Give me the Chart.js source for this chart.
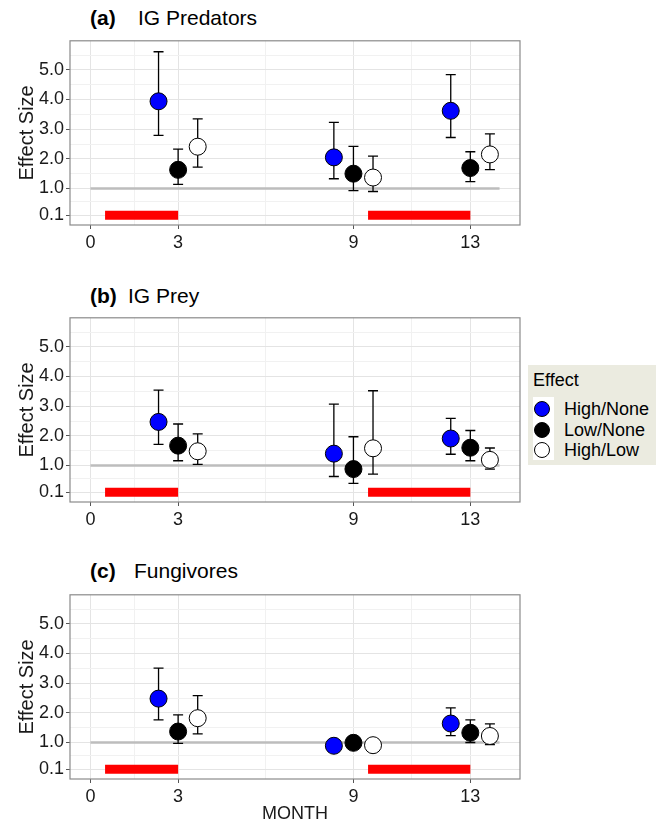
<!DOCTYPE html>
<html>
<head>
<meta charset="utf-8">
<script src="https://cdn.jsdelivr.net/npm/chart.js@4.4.1/dist/chart.umd.min.js"></script>
<style>
  body { margin: 0; background: #fff; font-family: "Liberation Sans", Arial, sans-serif; }
  #page { position: relative; width: 656px; height: 826px; overflow: hidden; }
  canvas { position: absolute; left: 0; }
  .ttl { position: absolute; font-size: 21px; line-height: 24px; color: #000; white-space: nowrap; }
  .ttl b { font-weight: bold; }
  #legend { position: absolute; left: 528px; top: 365px; width: 128px; height: 100px; background: #ebebe0; }
  #legend .head { position: absolute; left: 5px; top: 4px; font-size: 18px; line-height: 22px; }
  #legend .keys { position: absolute; left: 5px; top: 32px; width: 21px; height: 63px; background: #fff; }
  #legend .dot { position: absolute; left: 6px; width: 16px; height: 16px; border-radius: 50%; border: 1px solid #000; box-sizing: border-box; }
  #legend .lab { position: absolute; left: 36px; font-size: 18px; line-height: 20px; }
</style>
</head>
<body>
<div id="page">
  <div class="ttl" style="left:90px;top:6px"><b>(a)</b></div>
  <div class="ttl" style="left:138px;top:6px">IG Predators</div>
  <div class="ttl" style="left:90px;top:284px"><b>(b)</b></div>
  <div class="ttl" style="left:128px;top:284px">IG Prey</div>
  <div class="ttl" style="left:90px;top:559px"><b>(c)</b></div>
  <div class="ttl" style="left:134px;top:559px">Fungivores</div>
  <canvas id="predChart"></canvas>
  <canvas id="preyChart"></canvas>
  <canvas id="fungChart"></canvas>
  <div id="legend"></div>
</div>
<script>
// months sampled, and the three effect contrasts
var months = [3, 9, 13];
var effectNames = ["High/None", "Low/None", "High/Low"];
var effectFill = ["#0000ff", "#000000", "#ffffff"];

// axis ticks
var xTickValues = [0, 3, 9, 13];
var xMinorValues = [1.5, 6, 11];
var yTickValues = [0.1, 1, 2, 3, 4, 5];
var yTickLabels = ["0.1", "1.0", "2.0", "3.0", "4.0", "5.0"];
var yMinorValues = [0.55, 1.5, 2.5, 3.5, 4.5, 5.5];

// red season bars (at y = 0.1) and grey reference line (at y = 1)
var seasons = [[0.5, 3], [9.5, 13]];
var seasonLevel = 0.1;
var refSpan = [0, 14];
var refLevel = 1;

// (a) IG Predators: rows High/None, Low/None, High/Low; columns = months
var predMean = [[3.94, 2.05, 3.62], [1.63, 1.50, 1.69], [2.41, 1.37, 2.15]];
var predLow  = [[2.79, 1.33, 2.72], [1.14, 0.93, 1.23], [1.72, 0.90, 1.64]];
var predHigh = [[5.61, 3.23, 4.84], [2.33, 2.42, 2.24], [3.35, 2.09, 2.84]];

// (b) IG Prey
var preyMean = [[2.47, 1.40, 1.91], [1.67, 0.88, 1.60], [1.48, 1.58, 1.19]];
var preyLow  = [[1.71, 0.63, 1.38], [1.16, 0.40, 1.16], [1.04, 0.71, 0.88]];
var preyHigh = [[3.54, 3.07, 2.59], [2.40, 1.97, 2.18], [2.07, 3.52, 1.59]];

// (c) Fungivores
var fungMean = [[2.48, 0.89, 1.64], [1.37, 0.99, 1.33], [1.82, 0.91, 1.22]];
var fungLow  = [[1.76, 0.85, 1.23], [0.97, 0.95, 1.00], [1.29, 0.87, 0.93]];
var fungHigh = [[3.51, 0.93, 2.17], [1.93, 1.03, 1.76], [2.58, 0.95, 1.63]];

Chart.defaults.font.family = "'Liberation Sans', Arial, sans-serif";
Chart.defaults.color = "#1a1a1a";

var dodge = 0.67;
var boxHeight = 187;

var errorBars = {
  id: "errorBars",
  beforeDatasetDraw: function (chart, args) {
    var ds = chart.data.datasets[args.index];
    if (!ds.errorBars) return;
    var xs = chart.scales.x, ys = chart.scales.y, ctx = chart.ctx;
    ctx.save();
    ctx.strokeStyle = "#000";
    ctx.lineWidth = 1.3;
    ds.data.forEach(function (p) {
      var px = xs.getPixelForValue(p.x);
      var top = ys.getPixelForValue(p.hi);
      var bot = ys.getPixelForValue(p.lo);
      ctx.beginPath();
      ctx.moveTo(px, top); ctx.lineTo(px, bot);
      ctx.moveTo(px - 5, top); ctx.lineTo(px + 5, top);
      ctx.moveTo(px - 5, bot); ctx.lineTo(px + 5, bot);
      ctx.stroke();
    });
    ctx.restore();
  }
};

var panelBox = {
  id: "panelBox",
  beforeDatasetsDraw: function (chart) {
    var a = chart.chartArea, ctx = chart.ctx;
    ctx.save();
    ctx.strokeStyle = "#8a8a8a";
    ctx.lineWidth = 1.2;
    ctx.strokeRect(a.left, a.top, a.right - a.left, a.bottom - a.top);
    ctx.restore();
  }
};

function makePanel(id, top, mean, low, high, last) {
  var canvas = document.getElementById(id);
  var padTop = 10;
  var axisH = last ? 50 : 30;
  canvas.width = 656;
  canvas.height = padTop + boxHeight + axisH;
  canvas.style.top = (top - padTop) + "px";

  var datasets = [];
  datasets.push({
    data: [{ x: refSpan[0], y: refLevel }, { x: refSpan[1], y: refLevel }],
    showLine: true, borderColor: "#bdbdbd", borderWidth: 2.5, pointRadius: 0, order: 2
  });
  seasons.forEach(function (s) {
    datasets.push({
      data: [{ x: s[0], y: seasonLevel }, { x: s[1], y: seasonLevel }],
      showLine: true, borderColor: "#ff0000", borderWidth: 9, borderCapStyle: "butt",
      pointRadius: 0, order: 2
    });
  });
  effectNames.forEach(function (name, s) {
    datasets.push({
      label: name,
      errorBars: true,
      data: months.map(function (m, i) {
        return { x: m + (s - 1) * dodge, y: mean[s][i], lo: low[s][i], hi: high[s][i] };
      }),
      backgroundColor: effectFill[s],
      borderColor: "#000",
      borderWidth: 1,
      pointRadius: 8.5,
      order: 0
    });
  });

  var isMajorX = function (v) { return xTickValues.indexOf(v) >= 0; };
  var isMajorY = function (v) { return yTickValues.indexOf(v) >= 0; };

  return new Chart(canvas, {
    type: "scatter",
    data: { datasets: datasets },
    plugins: [panelBox, errorBars],
    options: {
      responsive: false,
      animation: false,
      layout: { padding: { top: padTop, right: 136, left: 0, bottom: 0 } },
      plugins: { legend: { display: false }, tooltip: { enabled: false } },
      scales: {
        x: {
          type: "linear",
          min: -0.7,
          max: 14.7,
          afterBuildTicks: function (sc) {
            sc.ticks = xTickValues.concat(xMinorValues).sort(function (a, b) { return a - b; })
              .map(function (v) { return { value: v }; });
          },
          afterFit: function (sc) { sc.height = axisH; },
          ticks: {
            autoSkip: false, maxRotation: 0, padding: 3,
            font: { size: 18 },
            callback: function (v) { return isMajorX(v) ? String(v) : ""; }
          },
          grid: {
            color: function (c) { return c.tick && isMajorX(c.tick.value) ? "#e4e4e4" : "#f1f1f1"; },
            lineWidth: 1,
            tickLength: 4,
            tickColor: function (c) { return c.tick && isMajorX(c.tick.value) ? "#555" : "rgba(0,0,0,0)"; }
          },
          border: { display: false },
          title: {
            display: last, text: "MONTH",
            font: { size: 18, lineHeight: 1.2 },
            padding: { top: 0, bottom: 4 }
          }
        },
        y: {
          type: "linear",
          min: -0.23,
          max: 5.98,
          afterBuildTicks: function (sc) {
            sc.ticks = yTickValues.concat(yMinorValues).sort(function (a, b) { return a - b; })
              .map(function (v) { return { value: v }; });
          },
          afterFit: function (sc) { sc.width = 70; },
          ticks: {
            autoSkip: false, padding: 2,
            font: { size: 18 },
            callback: function (v) {
              var k = yTickValues.indexOf(v);
              return k >= 0 ? yTickLabels[k] : "";
            }
          },
          grid: {
            color: function (c) { return c.tick && isMajorY(c.tick.value) ? "#e4e4e4" : "#f1f1f1"; },
            lineWidth: 1,
            tickLength: 4,
            tickColor: function (c) { return c.tick && isMajorY(c.tick.value) ? "#555" : "rgba(0,0,0,0)"; }
          },
          border: { display: false },
          title: {
            display: true, text: "Effect Size",
            font: { size: 20, lineHeight: 1.2 },
            padding: { top: 15, bottom: 0 }
          }
        }
      }
    }
  });
}

makePanel("predChart", 38, predMean, predLow, predHigh, false);
makePanel("preyChart", 315, preyMean, preyLow, preyHigh, false);
makePanel("fungChart", 592, fungMean, fungLow, fungHigh, true);

// legend (HTML, built from the effect arrays)
var legend = document.getElementById("legend");
var html = '<div class="head">Effect</div><div class="keys"></div>';
var rowY = [44, 65, 85];
effectNames.forEach(function (name, s) {
  html += '<div class="dot" style="top:' + (rowY[s] - 8) + 'px;background:' + effectFill[s] + '"></div>';
  html += '<div class="lab" style="top:' + (rowY[s] - 10) + 'px">' + name + '</div>';
});
legend.innerHTML = html;
</script>
</body>
</html>
